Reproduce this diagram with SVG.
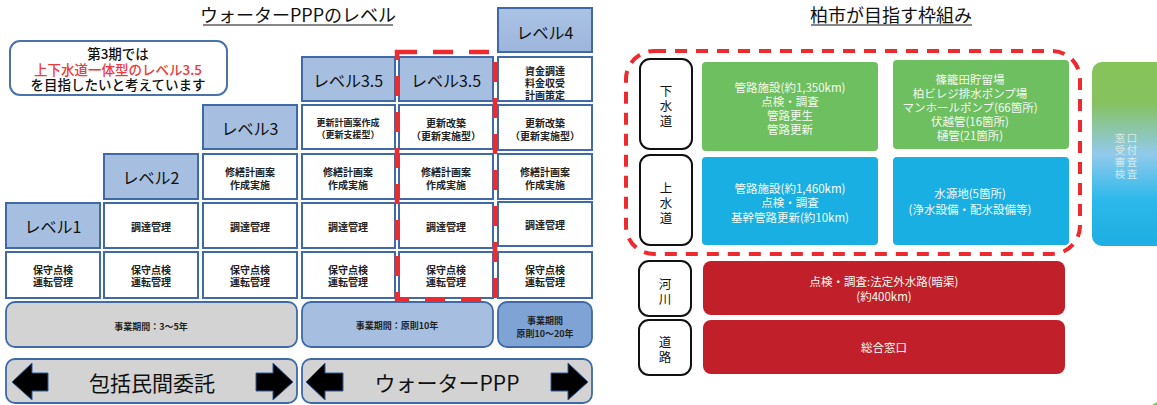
<svg xmlns="http://www.w3.org/2000/svg" width="1157" height="405" viewBox="0 0 1157 405">
<defs>
<style>
text{font-family:"Noto Sans CJK JP","Noto Sans",sans-serif;text-anchor:middle;dominant-baseline:central}
.hd{fill:#a6bee0;stroke:#3f6aa6;stroke-width:2}
.wc{fill:#fff;stroke:#3f6aa6;stroke-width:2}
.ht{font-size:16px;fill:#111}
.ct{font-size:10px;font-weight:700;fill:#222}
.cs{font-size:9px;font-weight:700;fill:#222}
.ttl{font-size:18px;fill:#111}
.pb{stroke:#3f6aa6;stroke-width:1.8}
.arr{fill:#000;stroke:#2f5a9a;stroke-width:1}
.lb{fill:#fff;stroke:#111;stroke-width:2}
.lt{font-size:12.5px;fill:#111}
.gt{font-size:11.5px;fill:#f4faf2}
.mt{font-size:10.5px;fill:#eef6ee;fill-opacity:0.8}
.red{fill:#c1202a}
</style>
<linearGradient id="grad" x1="0" y1="0" x2="0" y2="1">
<stop offset="0" stop-color="#86c45a"/>
<stop offset="0.22" stop-color="#86c25f"/>
<stop offset="0.5" stop-color="#92caec"/>
<stop offset="0.75" stop-color="#2cb8ea"/>
<stop offset="1" stop-color="#1eaee1"/>
</linearGradient>
<linearGradient id="l4" x1="0" y1="0" x2="0" y2="1">
<stop offset="0" stop-color="#a9c3e5"/>
<stop offset="1" stop-color="#9db5db"/>
</linearGradient>
</defs>
<rect width="1157" height="405" fill="#fff"/>

<g id="title-left">
<text x="298" y="14" class="ttl">ウォーターPPPのレベル</text>
<line x1="203" y1="25" x2="393" y2="25" stroke="#111" stroke-width="1.2"/>
</g>
<g id="title-right">
<text x="891" y="14" class="ttl">柏市が目指す枠組み</text>
<line x1="811" y1="25" x2="972" y2="25" stroke="#111" stroke-width="1.2"/>
</g>

<g id="callout">
<rect x="10" y="41" width="217" height="54" rx="10" fill="#fff" stroke="#4a72ad" stroke-width="2"/>
<text x="118" y="53" font-size="13.5" font-weight="500" fill="#111">第3期では</text>
<text x="118" y="69" font-size="13.5" font-weight="500" fill="#f03a3a">上下水道一体型のレベル3.5</text>
<text x="118" y="84" font-size="13.5" font-weight="500" fill="#111">を目指したいと考えています</text>
</g>

<g id="col1">
<rect x="6" y="203" width="94" height="45" class="hd"/>
<text x="53" y="226" class="ht">レベル1</text>
<rect x="6" y="252" width="94" height="46" class="wc"/>
<text x="53" y="269" class="ct">保守点検</text>
<text x="53" y="281" class="ct">運転管理</text>
</g>
<g id="col2">
<rect x="104" y="154" width="94" height="45" class="hd"/>
<text x="151" y="177" class="ht">レベル2</text>
<rect x="104" y="203" width="94" height="45" class="wc"/>
<text x="151" y="226" class="ct">調達管理</text>
<rect x="104" y="252" width="94" height="46" class="wc"/>
<text x="151" y="269" class="ct">保守点検</text>
<text x="151" y="281" class="ct">運転管理</text>
</g>
<g id="col3">
<rect x="203" y="105" width="94" height="44" class="hd"/>
<text x="250" y="128" class="ht">レベル3</text>
<rect x="203" y="154" width="94" height="45" class="wc"/>
<text x="250" y="171" class="ct">修繕計画案</text>
<text x="250" y="184" class="ct">作成実施</text>
<rect x="203" y="203" width="94" height="45" class="wc"/>
<text x="250" y="226" class="ct">調達管理</text>
<rect x="203" y="252" width="94" height="46" class="wc"/>
<text x="250" y="269" class="ct">保守点検</text>
<text x="250" y="281" class="ct">運転管理</text>
</g>
<g id="col4">
<rect x="302" y="57" width="93" height="44" class="hd"/>
<text x="348" y="80" class="ht">レベル3.5</text>
<rect x="302" y="105" width="93" height="44" class="wc"/>
<text x="348" y="122" class="cs">更新計画案作成</text>
<text x="348" y="134" class="cs">（更新支援型）</text>
<rect x="302" y="154" width="93" height="45" class="wc"/>
<text x="348" y="171" class="ct">修繕計画案</text>
<text x="348" y="184" class="ct">作成実施</text>
<rect x="302" y="203" width="93" height="45" class="wc"/>
<text x="348" y="226" class="ct">調達管理</text>
<rect x="302" y="252" width="93" height="46" class="wc"/>
<text x="348" y="269" class="ct">保守点検</text>
<text x="348" y="281" class="ct">運転管理</text>
</g>
<g id="col5">
<rect x="399" y="57" width="94" height="44" class="hd"/>
<text x="446" y="80" class="ht">レベル3.5</text>
<rect x="399" y="105" width="94" height="44" class="wc"/>
<text x="446" y="122" class="ct">更新改築</text>
<text x="446" y="135" class="ct">（更新実施型）</text>
<rect x="399" y="154" width="94" height="45" class="wc"/>
<text x="446" y="171" class="ct">修繕計画案</text>
<text x="446" y="184" class="ct">作成実施</text>
<rect x="399" y="203" width="94" height="45" class="wc"/>
<text x="446" y="226" class="ct">調達管理</text>
<rect x="399" y="252" width="94" height="46" class="wc"/>
<text x="446" y="269" class="ct">保守点検</text>
<text x="446" y="281" class="ct">運転管理</text>
</g>
<g id="col6">
<rect x="498" y="8" width="94" height="44" fill="url(#l4)" stroke="#3f6aa6" stroke-width="2"/>
<text x="545" y="32" class="ht">レベル4</text>
<rect x="498" y="57" width="94" height="44" class="wc"/>
<text x="545" y="70" class="ct">資金調達</text>
<text x="545" y="82" class="ct">料金収受</text>
<text x="545" y="94" class="ct">計画策定</text>
<rect x="498" y="105" width="94" height="45" class="wc"/>
<text x="545" y="122" class="ct">更新改築</text>
<text x="545" y="135" class="ct">（更新実施型）</text>
<rect x="498" y="154" width="94" height="45" class="wc"/>
<text x="545" y="171" class="ct">修繕計画案</text>
<text x="545" y="184" class="ct">作成実施</text>
<rect x="498" y="202" width="94" height="44" class="wc"/>
<text x="545" y="224" class="ct">調達管理</text>
<rect x="498" y="252" width="94" height="46" class="wc"/>
<text x="545" y="269" class="ct">保守点検</text>
<text x="545" y="281" class="ct">運転管理</text>
</g>

<g id="highlight-level35">
<rect x="397" y="52" width="98" height="248" fill="none" stroke="#ee2a2f" stroke-width="4.5" stroke-dasharray="20 16"/>
</g>

<g id="periods">
<rect x="6" y="302" width="291" height="45" rx="9" fill="#d3d3d3" class="pb"/>
<text x="151" y="326" class="cs" font-size="10">事業期間：3～5年</text>
<rect x="302" y="302" width="191" height="45" rx="9" fill="#a6bee0" class="pb"/>
<text x="397" y="325" class="cs" font-size="10">事業期間：原則10年</text>
<rect x="498" y="302" width="94" height="45" rx="9" fill="#7fa3d5" class="pb"/>
<text x="545" y="320" class="cs" font-size="10">事業期間</text>
<text x="545" y="333" class="cs" font-size="10">原則10～20年</text>
</g>

<g id="banner-houkatsu">
<rect x="6" y="359" width="291" height="44" rx="9" fill="#d3d3d3" class="pb"/>
<polygon class="arr" points="12,382 32,363 32,373 48,373 48,391 32,391 32,400"/>
<polygon class="arr" points="293,382 273,363 273,373 256,373 256,391 273,391 273,400"/>
<text x="152" y="382" font-size="21" fill="#111">包括民間委託</text>
</g>
<g id="banner-ppp">
<rect x="302" y="359" width="290" height="44" rx="9" fill="#d3d3d3" class="pb"/>
<polygon class="arr" points="306,382 325,363 325,373 343,373 343,391 325,391 325,400"/>
<polygon class="arr" points="588,382 568,363 568,373 551,373 551,391 568,391 568,400"/>
<text x="447" y="382" font-size="21" fill="#111">ウォーターPPP</text>
</g>

<g id="frame-water">
<rect x="626" y="51" width="454" height="203" rx="28" fill="none" stroke="#ee2a2f" stroke-width="4" stroke-dasharray="12 9"/>
</g>

<g id="label-gesuido">
<rect x="640" y="59" width="52" height="90" rx="10" class="lb"/>
<text x="666" y="90" class="lt">下</text>
<text x="666" y="105" class="lt">水</text>
<text x="666" y="120" class="lt">道</text>
</g>
<g id="label-josuido">
<rect x="640" y="155" width="52" height="90" rx="10" class="lb"/>
<text x="666" y="187" class="lt">上</text>
<text x="666" y="202" class="lt">水</text>
<text x="666" y="217" class="lt">道</text>
</g>
<g id="label-kasen">
<rect x="639" y="261" width="52" height="55" rx="10" class="lb"/>
<text x="665" y="283" class="lt">河</text>
<text x="665" y="298" class="lt">川</text>
</g>
<g id="label-doro">
<rect x="639" y="320" width="52" height="55" rx="10" class="lb"/>
<text x="665" y="341" class="lt">道</text>
<text x="665" y="356" class="lt">路</text>
</g>

<g id="gesui-kanro">
<rect x="702" y="62" width="176" height="89" rx="4" fill="#6ebf5f"/>
<text x="790" y="87" class="gt">管路施設(約1,350km)</text>
<text x="790" y="101" class="gt">点検・調査</text>
<text x="790" y="115" class="gt">管路更生</text>
<text x="790" y="129" class="gt">管路更新</text>
</g>
<g id="gesui-shisetsu">
<rect x="893" y="60" width="176" height="89" rx="4" fill="#6ebf5f"/>
<text x="970" y="79" class="gt">篠籠田貯留場</text>
<text x="970" y="93" class="gt">柏ビレジ排水ポンプ場</text>
<text x="970" y="107" class="gt">マンホールポンプ(66箇所)</text>
<text x="970" y="121" class="gt">伏越管(16箇所)</text>
<text x="970" y="135" class="gt">樋管(21箇所)</text>
</g>
<g id="josui-kanro">
<rect x="702" y="157" width="176" height="88" rx="4" fill="#1aafe3"/>
<text x="790" y="188" class="gt">管路施設(約1,460km)</text>
<text x="790" y="202" class="gt">点検・調査</text>
<text x="790" y="217" class="gt">基幹管路更新(約10km)</text>
</g>
<g id="josui-suigenchi">
<rect x="893" y="157" width="176" height="88" rx="4" fill="#1aafe3"/>
<text x="970" y="193" class="gt">水源地(5箇所)</text>
<text x="970" y="209" class="gt">(浄水設備・配水設備等)</text>
</g>
<g id="kasen-box">
<rect x="703" y="261" width="362" height="54" rx="8" class="red"/>
<text x="884" y="281" class="gt">点検・調査:法定外水路(暗渠)</text>
<text x="884" y="296" class="gt">(約400km)</text>
</g>
<g id="doro-box">
<rect x="703" y="320" width="362" height="54" rx="8" class="red"/>
<text x="884" y="347" class="gt">総合窓口</text>
</g>
<g id="madoguchi">
<rect x="1092" y="62" width="90" height="184" rx="10" fill="url(#grad)"/>
<text x="1120" y="137" class="mt">窓</text><text x="1132" y="137" class="mt">口</text>
<text x="1120" y="149" class="mt">受</text><text x="1132" y="149" class="mt">付</text>
<text x="1120" y="161" class="mt">審</text><text x="1132" y="161" class="mt">査</text>
<text x="1120" y="173" class="mt">検</text><text x="1132" y="173" class="mt">査</text>
</g>
<circle cx="1168" cy="428" r="28" fill="#7dc35b"/>
<g id="connectors"/>
</svg>
